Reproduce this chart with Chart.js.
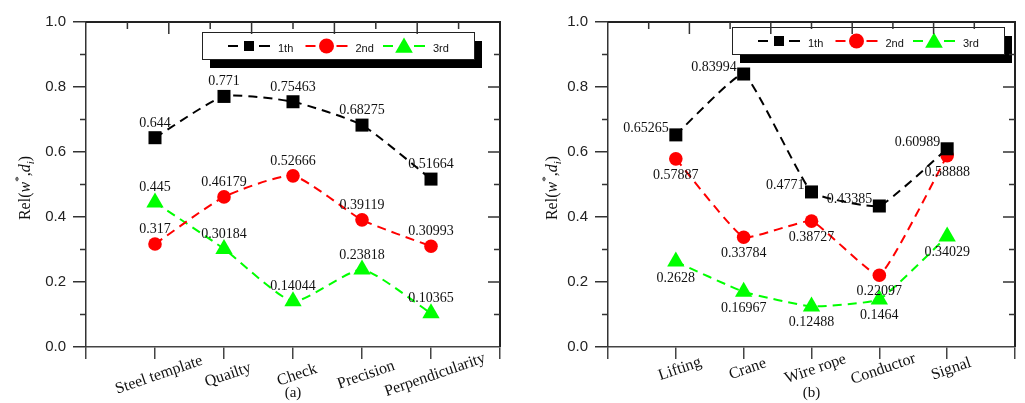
<!DOCTYPE html>
<html>
<head>
<meta charset="utf-8">
<script src="https://cdn.jsdelivr.net/npm/chart.js@4.4.1/dist/chart.umd.min.js"></script>
<style>
  html, body { margin: 0; padding: 0; background: #fff; }
  #wrap { position: relative; width: 1025px; height: 403px; }
  canvas { position: absolute; top: 0; }
</style>
</head>
<body>
<div id="wrap">
  <canvas id="chartA" width="512" height="403" style="left:0"></canvas>
  <canvas id="chartB" width="513" height="403" style="left:512px"></canvas>
</div>
<script>
// series names for the legend
const seriesNames = ['1th', '2nd', '3rd'];

// (a) steel template side
const catsA = ['Steel template', 'Quailty', 'Check', 'Precision', 'Perpendicularity'];
const firstA = [0.644, 0.771, 0.75463, 0.68275, 0.51664];
const secondA = [0.317, 0.46179, 0.52666, 0.39119, 0.30993];
const thirdA = [0.445, 0.30184, 0.14044, 0.23818, 0.10365];

// (b) lifting side
const catsB = ['Lifting', 'Crane', 'Wire rope', 'Conductor', 'Signal'];
const firstB = [0.65265, 0.83994, 0.4771, 0.43385, 0.60989];
const secondB = [0.57887, 0.33784, 0.38727, 0.22097, 0.58888];
const thirdB = [0.2628, 0.16967, 0.12488, 0.1464, 0.34029];

const yMin = 0, yMax = 1, yStep = 0.2;

const colors = ['#000000', '#ff0000', '#00ff00'];
const styles = ['rect', 'circle', 'triangle'];
const radii = [9.2, 6.8, 10];
const serif = '"Liberation Serif", "Times New Roman", serif';
const sans = '"Liberation Sans", Arial, sans-serif';

function toPts(arr) {
  return arr.map((v, i) => ({ x: i, y: v }));
}

function marker(ctx, style, x, y, size, color) {
  ctx.fillStyle = color;
  ctx.beginPath();
  if (style === 'rect') {
    ctx.rect(x - size / 2, y - size / 2, size, size);
  } else if (style === 'circle') {
    ctx.arc(x, y, size / 2, 0, Math.PI * 2);
  } else {
    ctx.moveTo(x, y - size * 0.5);
    ctx.lineTo(x + size * 0.52, y + size * 0.4);
    ctx.lineTo(x - size * 0.52, y + size * 0.4);
    ctx.closePath();
  }
  ctx.fill();
}

function drawLegend(ctx, bx, by) {
  const bw = 272, bh = 27;
  ctx.save();
  ctx.fillStyle = '#000';
  ctx.fillRect(bx + 8, by + 9, bw, bh);
  ctx.fillStyle = '#fff';
  ctx.fillRect(bx, by, bw, bh);
  ctx.strokeStyle = '#222';
  ctx.lineWidth = 1;
  ctx.strokeRect(bx + 0.5, by + 0.5, bw, bh);
  const sizes = [10, 15, 17];
  seriesNames.forEach((name, i) => {
    const mx = bx + 47 + 77.5 * i, my = by + 14;
    ctx.strokeStyle = colors[i];
    ctx.lineWidth = 2;
    ctx.beginPath();
    ctx.moveTo(mx - 21, my); ctx.lineTo(mx - 11, my);
    ctx.moveTo(mx + 10, my); ctx.lineTo(mx + 21, my);
    ctx.stroke();
    marker(ctx, styles[i], mx, my, sizes[i], colors[i]);
    ctx.fillStyle = '#111';
    ctx.font = '11px ' + sans;
    ctx.textAlign = 'left';
    ctx.textBaseline = 'alphabetic';
    ctx.fillText(name, mx + 29, by + 20);
  });
  ctx.restore();
}

function drawYTitle(ctx, x, y) {
  const parts = [
    { t: 'Rel(', f: '16px ' + serif, dy: 0 },
    { t: 'w', f: 'italic 16px ' + serif, dy: 0 },
    { t: '*', f: '11px ' + serif, dy: -8 },
    { t: ',', f: '16px ' + serif, dy: 0 },
    { t: 'd', f: 'italic 16px ' + serif, dy: 0 },
    { t: 'i', f: 'italic 11px ' + serif, dy: 4 },
    { t: ')', f: '16px ' + serif, dy: 0 }
  ];
  ctx.save();
  ctx.translate(x, y);
  ctx.rotate(-Math.PI / 2);
  ctx.fillStyle = '#111';
  ctx.textBaseline = 'alphabetic';
  ctx.textAlign = 'left';
  let total = 0;
  parts.forEach(p => { ctx.font = p.f; p.w = ctx.measureText(p.t).width; total += p.w; });
  let cx = -total / 2;
  parts.forEach(p => { ctx.font = p.f; ctx.fillText(p.t, cx, p.dy); cx += p.w; });
  ctx.restore();
}

function decor(cfg) {
  return {
    id: 'decor',
    afterDatasetsDraw(chart) {
      const ctx = chart.ctx;
      ctx.save();
      ctx.font = '14px ' + serif;
      ctx.fillStyle = '#111';
      ctx.textBaseline = 'alphabetic';
      chart.data.datasets.forEach((ds, si) => {
        const meta = chart.getDatasetMeta(si);
        const pos = cfg.labelPos[si];
        meta.data.forEach((pt, i) => {
          const txt = String(ds.data[i].y);
          if (pos === 'left') {
            ctx.textAlign = 'right';
            ctx.fillText(txt, pt.x - 7, pt.y - 3);
          } else if (pos === 'below') {
            ctx.textAlign = 'center';
            ctx.fillText(txt, pt.x, pt.y + 20);
          } else {
            ctx.textAlign = 'center';
            ctx.fillText(txt, pt.x, pt.y - 11);
          }
        });
      });
      ctx.restore();
    },
    afterDraw(chart) {
      const ctx = chart.ctx;
      const a = chart.chartArea;
      const ys = chart.scales.y, xs = chart.scales.x;
      drawLegend(ctx, cfg.legendX, cfg.legendY);
      ctx.save();
      // top & right frame
      ctx.strokeStyle = '#222';
      ctx.lineWidth = 2;
      ctx.beginPath();
      ctx.moveTo(a.left, a.top); ctx.lineTo(a.right, a.top); ctx.lineTo(a.right, a.bottom);
      ctx.stroke();
      ctx.lineWidth = 1.5;
      ctx.strokeStyle = '#333';
      ctx.beginPath();
      // top ticks (inward), 10 divisions
      for (let i = 1; i < 10; i++) {
        const x = a.left + (a.right - a.left) * i / 10;
        const len = i % 2 === 0 ? 12 : 7;
        ctx.moveTo(x, a.top); ctx.lineTo(x, a.top + len);
      }
      // right ticks (inward) and left minor ticks (outward)
      for (let k = 1; k < 10; k++) {
        const y = ys.getPixelForValue(k / 10);
        const major = k % 2 === 0;
        ctx.moveTo(a.right, y); ctx.lineTo(a.right - (major ? 12 : 6), y);
        if (!major) { ctx.moveTo(a.left, y); ctx.lineTo(a.left - 6, y); }
      }
      ctx.stroke();
      // category labels, rotated
      ctx.fillStyle = '#111';
      ctx.font = '16px ' + serif;
      ctx.textAlign = 'center';
      ctx.textBaseline = 'middle';
      cfg.cats.forEach((c, i) => {
        ctx.save();
        ctx.translate(xs.getPixelForValue(i) + 4, cfg.catY);
        ctx.rotate(-19 * Math.PI / 180);
        ctx.fillText(c, 0, 0);
        ctx.restore();
      });
      ctx.textBaseline = 'alphabetic';
      ctx.font = '15px ' + serif;
      ctx.fillText(cfg.caption, (a.left + a.right) / 2, 397);
      ctx.restore();
      drawYTitle(ctx, cfg.titleX, 188);
    }
  };
}

function build(id, cats, series, cfg) {
  const datasets = series.map((arr, i) => ({
    label: seriesNames[i],
    data: toPts(arr),
    borderColor: colors[i],
    backgroundColor: colors[i],
    borderWidth: 2,
    borderDash: [9, 6],
    tension: cfg.tension,
    pointStyle: styles[i],
    pointRadius: radii[i],
    pointHoverRadius: radii[i],
    pointBackgroundColor: colors[i],
    pointBorderColor: colors[i],
    pointBorderWidth: 0,
    clip: false
  }));
  cfg.cats = cats;
  return new Chart(document.getElementById(id), {
    type: 'line',
    data: { datasets },
    options: {
      responsive: false,
      animation: false,
      devicePixelRatio: 1,
      layout: { padding: { left: cfg.padLeft, right: cfg.padRight, top: 22, bottom: 36 } },
      plugins: { legend: { display: false }, tooltip: { enabled: false } },
      scales: {
        x: {
          type: 'linear',
          min: -1,
          max: cats.length,
          afterFit: s => { s.height = 20; },
          ticks: { display: false, stepSize: 1 },
          grid: { drawOnChartArea: false, tickLength: 12, color: '#444', lineWidth: 1.5 },
          border: { display: true, color: '#444', width: 1.5 }
        },
        y: {
          min: yMin,
          max: yMax,
          afterFit: s => { s.width = 70; },
          ticks: {
            stepSize: yStep,
            padding: 7,
            color: '#222',
            font: { family: sans, size: 15 },
            callback: v => Number(v).toFixed(1)
          },
          grid: { drawOnChartArea: false, tickLength: 13, color: '#333', lineWidth: 1.5 },
          border: { display: true, color: '#333', width: 1.5 }
        }
      }
    },
    plugins: [decor(cfg)]
  });
}

build('chartA', catsA, [firstA, secondA, thirdA], {
  padLeft: 16, padRight: 12, tension: 0.18,
  labelPos: ['above', 'above', 'above'],
  legendX: 202, legendY: 32, catY: 375, caption: '(a)', titleX: 30
});
build('chartB', catsB, [firstB, secondB, thirdB], {
  padLeft: 26, padRight: 3, tension: 0.12,
  labelPos: ['left', 'below', 'below'],
  legendX: 220, legendY: 27, catY: 369, caption: '(b)', titleX: 45
});
</script>
</body>
</html>
